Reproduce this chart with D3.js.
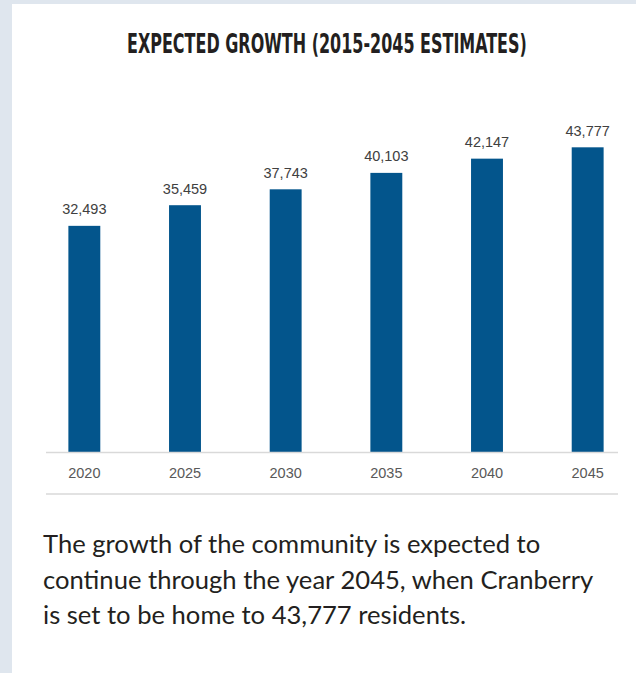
<!DOCTYPE html>
<html>
<head>
<meta charset="utf-8">
<script src="https://cdn.jsdelivr.net/npm/d3@7"></script>
<style>
  html, body { margin: 0; padding: 0; background: #dfe6ee; }
  svg { display: block; }
</style>
</head>
<body>
<svg id="chart" width="636" height="673"></svg>
<script>
// Projected population by year
const years = ["2020", "2025", "2030", "2035", "2040", "2045"];
const population = [32493, 35459, 37743, 40103, 42147, 43777];
const yMax = 50000;

const title = "EXPECTED GROWTH (2015-2045 ESTIMATES)";
const captionLines = [
  "The growth of the community is expected to",
  "continue through the year 2045, when Cranberry",
  "is set to be home to 43,777 residents."
];

const svg = d3.select("#chart");
const W = 636, H = 673;

// card background
svg.append("rect")
  .attr("x", 12).attr("y", 4)
  .attr("width", W - 12).attr("height", H - 4)
  .attr("fill", "#ffffff");

// title: condensed bold, squeezed horizontally to a fixed width
const titleLeft = 127, titleWidth = 400;
const titleText = svg.append("text")
  .attr("x", 0).attr("y", 0)
  .style("font-family", "'DejaVu Sans Condensed', 'Liberation Sans Narrow', 'DejaVu Sans', sans-serif")
  .style("font-stretch", "condensed")
  .style("font-weight", "bold")
  .style("font-size", "27px")
  .attr("fill", "#231f20")
  .text(title);
const natural = titleText.node().getComputedTextLength();
titleText.attr("transform", `translate(${titleLeft},52.5) scale(${titleWidth / natural},1)`);

// scales
const x = d3.scaleBand()
  .domain(years)
  .range([34, 638])
  .paddingInner(0.683)
  .paddingOuter(0.3415);

const y = d3.scaleLinear()
  .domain([0, yMax])
  .range([452, 104]);

const data = years.map((yr, i) => ({ year: yr, value: population[i] }));

// bars
svg.append("g")
  .selectAll("rect")
  .data(data)
  .join("rect")
  .attr("x", d => x(d.year))
  .attr("y", d => y(d.value))
  .attr("width", x.bandwidth())
  .attr("height", d => y(0) - y(d.value))
  .attr("fill", "#03558c");

// value labels
const fmt = d3.format(",");
svg.append("g")
  .selectAll("text")
  .data(data)
  .join("text")
  .attr("x", d => x(d.year) + x.bandwidth() / 2)
  .attr("y", d => y(d.value) - 11.5)
  .attr("text-anchor", "middle")
  .style("font-family", "'Liberation Sans', Arial, sans-serif")
  .style("font-size", "14.5px")
  .attr("fill", "#404040")
  .text(d => fmt(d.value));

// baseline and lower rule
const ruleX0 = 46, ruleX1 = 618;
svg.append("line")
  .attr("x1", ruleX0).attr("x2", ruleX1)
  .attr("y1", y(0) + 0.5).attr("y2", y(0) + 0.5)
  .attr("stroke", "#d9d9d9").attr("stroke-width", 1.5);
svg.append("line")
  .attr("x1", ruleX0).attr("x2", ruleX1)
  .attr("y1", 494).attr("y2", 494)
  .attr("stroke", "#d9d9d9").attr("stroke-width", 1.5);

// category axis (labels only)
const xAxis = d3.axisBottom(x).tickSize(0).tickPadding(0);
const gx = svg.append("g")
  .attr("transform", "translate(0,467)")
  .call(xAxis);
gx.select(".domain").remove();
gx.selectAll("text")
  .attr("dy", "0.79em")
  .attr("y", 0)
  .style("font-family", "'Liberation Sans', Arial, sans-serif")
  .style("font-size", "14.5px")
  .attr("fill", "#595959");

// caption
svg.append("g")
  .selectAll("text")
  .data(captionLines)
  .join("text")
  .attr("x", 43)
  .attr("y", (d, i) => 553 + i * 35.5)
  .style("font-family", "Lato, 'Open Sans', sans-serif")
  .style("font-size", "25.6px")
  .attr("fill", "#231f20")
  .text(d => d);
</script>
</body>
</html>
